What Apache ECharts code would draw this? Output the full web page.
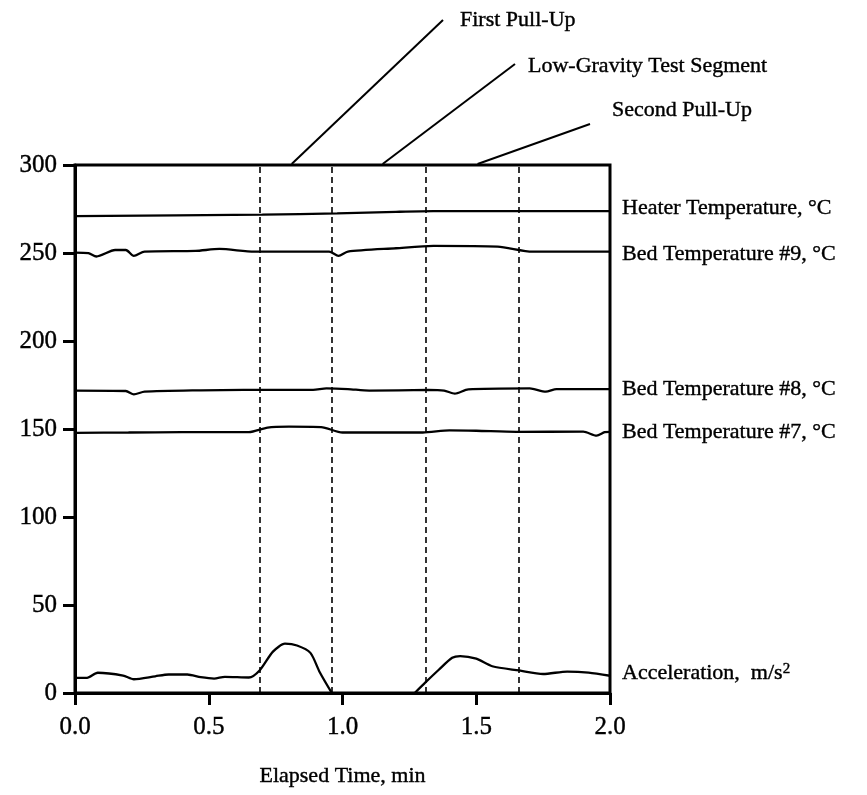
<!DOCTYPE html>
<html>
<head>
<meta charset="utf-8">
<script src="https://cdn.jsdelivr.net/npm/echarts@6/dist/echarts.min.js"></script>
<style>
  html, body { margin: 0; padding: 0; background: #fff; }
  #chart { width: 867px; height: 795px; }
</style>
</head>
<body>
<div id="chart"></div>
<script>
const FONT = "Liberation Serif";

// time (min) and values
const heaterT = [0, 0.7, 0.98, 1.2, 1.34, 2.0];
const heaterV = [271, 271.8, 272.5, 273.4, 273.8, 273.8];

const bed9T = [0, 0.05, 0.08, 0.15, 0.19, 0.22, 0.26, 0.45, 0.54, 0.67, 0.95, 0.985, 1.02, 1.2, 1.34, 1.58, 1.71, 2.0];
const bed9V = [250.2, 249.9, 248, 251.7, 251.7, 248.4, 250.8, 251.2, 252.3, 250.8, 250.8, 248.4, 250.8, 252.7, 254, 253.6, 250.8, 250.8];

const bed8T = [0, 0.19, 0.22, 0.26, 0.47, 0.63, 0.89, 0.94, 1.02, 1.10, 1.32, 1.38, 1.42, 1.47, 1.70, 1.76, 1.80, 2.0];
const bed8V = [171.8, 171.6, 169.7, 171.2, 172, 172.2, 172.2, 173.1, 172.7, 171.8, 172.2, 171.8, 170.1, 172.5, 173.1, 171.2, 172.7, 172.7];

const bed7T = [0, 0.2, 0.4, 0.65, 0.72, 0.8, 0.92, 1.0, 1.3, 1.4, 1.5, 1.65, 1.9, 1.95, 1.98, 2.0];
const bed7V = [147.8, 148, 148.2, 148.2, 150.8, 151.3, 151.1, 148, 148, 149.2, 149, 148.4, 148.5, 146.2, 148.2, 148.4];

// acceleration drops off the bottom of the chart between the two pull-ups
const accT = [0, 0.045, 0.085, 0.18, 0.22, 0.3, 0.35, 0.42, 0.47, 0.52, 0.56, 0.65, 0.69, 0.74, 0.785, 0.83, 0.88, 0.915, 0.96, 1.1, 1.27, 1.31, 1.36, 1.41, 1.44, 1.5, 1.56, 1.66, 1.75, 1.84, 1.92, 2.0];
const accV = [8.6, 8.6, 11.5, 9.9, 7.8, 9.5, 10.5, 10.5, 9.0, 8.2, 9.2, 8.8, 12.8, 23.5, 28, 27, 22.8, 11.8, 0, null, 0, 6, 13.2, 20, 21, 19.5, 15.2, 12.8, 10.8, 12.2, 11.6, 9.8];

// segment boundaries (dashed) and leader-line anchors
const phaseBounds = [0.688, 0.964, 1.308, 1.656];
const phaseNames = ["First Pull-Up", "Low-Gravity Test Segment", "Second Pull-Up"];
const phaseAnchors = [0.81, 1.15, 1.505];

const xTicks = [0, 0.5, 1.0, 1.5, 2.0];
const yTicks = [0, 50, 100, 150, 200, 250, 300];

// heavier ink, like the scanned original
const INK = { color: "#000", textBorderColor: "#000", textBorderWidth: 0.4 };

function pairs(t, v) {
  return t.map((x, i) => [x, v[i] === null ? "-" : v[i]]);
}

function lineSeries(name, t, v, labelText, offY) {
  return {
    name: name,
    type: "line",
    data: pairs(t, v),
    symbol: "none",
    smooth: 0.25,
    connectNulls: false,
    lineStyle: { color: "#000", width: 2.3 },
    endLabel: Object.assign({
      show: true,
      formatter: labelText,
      distance: 12,
      offset: [0, offY],
      fontFamily: FONT,
      fontSize: 22,
      rich: { sup: { fontSize: 15, padding: [0, 0, 8, 0], fontFamily: FONT, color: "#000" } }
    }, INK)
  };
}

const chart = echarts.init(document.getElementById("chart"));

const series = [
  lineSeries("heater", heaterT, heaterV, "Heater Temperature, °C", -3),
  lineSeries("bed9", bed9T, bed9V, "Bed Temperature #9, °C", 3),
  lineSeries("bed8", bed8T, bed8V, "Bed Temperature #8, °C", 0),
  lineSeries("bed7", bed7T, bed7V, "Bed Temperature #7, °C", 0),
  lineSeries("acc", accT, accV, "Acceleration,  m/s{sup|2}", -3)
];
series[0].markLine = {
  silent: true,
  symbol: "none",
  animation: false,
  label: { show: false },
  lineStyle: { color: "#000", width: 1.6, type: [6, 4] },
  data: phaseBounds.map(v => ({ xAxis: v }))
};

chart.setOption({
  animation: false,
  backgroundColor: "#fff",
  grid: {
    left: 75, right: 257, top: 165, bottom: 102,
    show: true, borderColor: "#000", borderWidth: 3
  },
  xAxis: {
    type: "value",
    min: 0, max: 2, interval: 0.5,
    name: "Elapsed Time, min",
    nameLocation: "middle",
    nameGap: 72,
    nameTextStyle: Object.assign({ fontFamily: FONT, fontSize: 22 }, INK),
    axisLine: { lineStyle: { color: "#000", width: 3 } },
    axisTick: { inside: false, length: 12, lineStyle: { color: "#000", width: 3 } },
    axisLabel: Object.assign({
      fontFamily: FONT, fontSize: 25, margin: 22,
      formatter: v => xTicks.indexOf(v) >= 0 ? v.toFixed(1) : ""
    }, INK),
    splitLine: { show: false }
  },
  yAxis: {
    type: "value",
    min: 0, max: 300, interval: 50,
    axisLine: { show: true, lineStyle: { color: "#000", width: 3 } },
    axisTick: { show: true, inside: false, length: 12, lineStyle: { color: "#000", width: 3 } },
    axisLabel: Object.assign({
      fontFamily: FONT, fontSize: 25, margin: 18,
      formatter: v => yTicks.indexOf(v) >= 0 ? String(v) : ""
    }, INK),
    splitLine: { show: false }
  },
  series: series
});

// leader lines from the top of the frame to the segment labels
const labelPos = [[460, 20], [528, 66], [612, 110]];
const lineEnds = [[443, 20], [515, 64], [590, 124]];
const graphics = [];
phaseAnchors.forEach((a, i) => {
  const p = chart.convertToPixel({ gridIndex: 0 }, [a, 300]);
  graphics.push({
    type: "line",
    shape: { x1: p[0], y1: p[1] - 1, x2: lineEnds[i][0], y2: lineEnds[i][1] },
    style: { stroke: "#000", lineWidth: 2 }
  });
  graphics.push({
    type: "text",
    x: labelPos[i][0], y: labelPos[i][1],
    style: {
      text: phaseNames[i], fill: "#000",
      stroke: "#000", lineWidth: 0.4,
      font: "22px " + FONT,
      textVerticalAlign: "middle", verticalAlign: "middle"
    }
  });
});
chart.setOption({ graphic: graphics });
</script>
</body>
</html>
